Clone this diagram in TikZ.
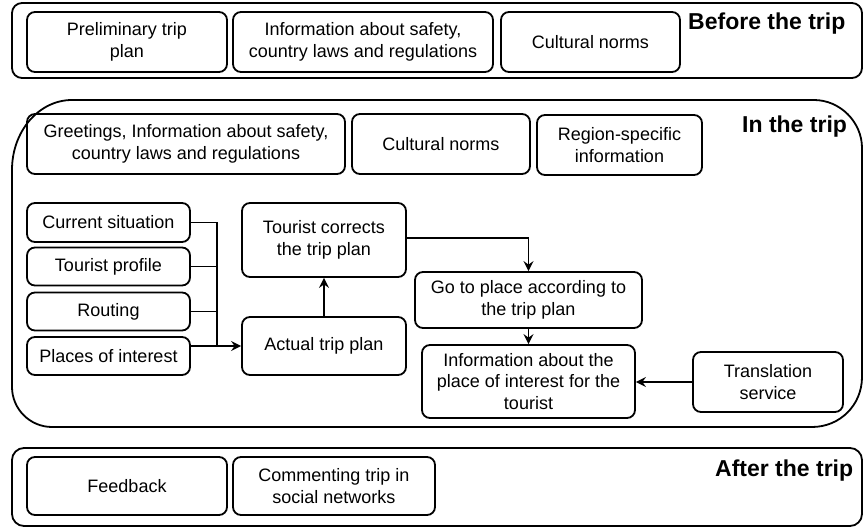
\documentclass[tikz,border=0pt]{standalone}
\usepackage{fontspec}
\setmainfont{Liberation Sans}
\usetikzlibrary{arrows.meta}
\tikzset{
  box/.style={draw, line width=1.8pt, rounded corners=8pt, align=center, inner sep=0pt,
    font=\fontsize{18}{21.5}\selectfont},
  band/.style={draw, line width=1.8pt},
  head/.style={font=\fontsize{23}{27}\selectfont\bfseries, anchor=base west, inner sep=0pt},
  conn/.style={line width=1.8pt},
  arr/.style={conn, -{Stealth[length=10pt,width=10pt,inset=3.5pt]}},
}
\begin{document}
\begin{tikzpicture}[x=1pt,y=-1pt]
\useasboundingbox (0,0) rectangle (865,529);

% ---- bands ----
\draw[band, rounded corners=10pt] (12,3) rectangle (862,78);
\draw[band] (12,170) -- (12,387) .. controls (12,409) and (30,427) .. (52,427)
  -- (812,427) .. controls (840,427) and (862,405) .. (862,377)
  -- (862,148) .. controls (862,122) and (840,100) .. (814,100)
  -- (72,100) .. controls (39,100) and (12,131) .. (12,170) -- cycle;
\draw[band, rounded corners=12pt] (12,448) rectangle (862,526);

% ---- before the trip ----
\node[box, minimum width=200pt, minimum height=60pt] (pre) at (127,42) {Preliminary trip\\plan};
\node[box, minimum width=260pt, minimum height=60pt] (safe1) at (363,42) {Information about safety,\\country laws and regulations};
\node[box, minimum width=179pt, minimum height=60pt] (cult1) at (590.5,42) {Cultural norms};
\node[head] (hbefore) at (688,30) {Before the trip};

% ---- in the trip ----
\node[box, minimum width=318pt, minimum height=60pt] (greet) at (186,144) {Greetings, Information about safety,\\country laws and regulations};
\node[box, minimum width=178pt, minimum height=60pt] (cult2) at (441,144) {Cultural norms};
\node[box, minimum width=165pt, minimum height=60pt] (region) at (619.5,145) {Region-specific\\information};
\node[head] (hin) at (742,133) {In the trip};

\node[box, minimum width=163pt, minimum height=39pt] (cur) at (108.5,222.5) {Current situation};
\node[box, minimum width=163pt, minimum height=38pt] (prof) at (108.5,266.5) {Tourist profile};
\node[box, minimum width=163pt, minimum height=38pt] (rout) at (108.5,311.5) {Routing};
\node[box, minimum width=163pt, minimum height=38pt] (poi) at (108.5,356) {Places of interest};

\node[box, minimum width=164pt, minimum height=58pt] (act) at (324,346) {Actual trip plan};
\node[box, minimum width=164pt, minimum height=74pt] (tc) at (324,240) {Tourist corrects\\the trip plan};
\node[box, minimum width=227pt, minimum height=56pt] (go) at (528.5,300) {Go to place according to\\the trip plan};
\node[box, minimum width=213pt, minimum height=73pt] (info) at (528.5,381.5) {Information about the\\place of interest for the\\tourist};
\node[box, minimum width=150pt, minimum height=60pt] (trans) at (768,382) {Translation\\service};

\coordinate (bus) at (217,346);
\draw[conn] (cur.east) -| (bus);
\draw[conn] (prof.east) -- (prof.east -| bus);
\draw[conn] (rout.east) -- (rout.east -| bus);
\draw[conn] (poi.east |- bus) -- (bus);
\draw[arr] (bus) -- (act.west);
\draw[arr] (act.north) -- (tc.south);
\draw[arr] ([yshift=2pt]tc.east) -| (go.north);
\draw[arr] (go.south) -- (info.north);
\draw[arr] (trans.west) -- (info.east |- trans.west);

% ---- after the trip ----
\node[box, minimum width=200pt, minimum height=58pt] (feed) at (127,486) {Feedback};
\node[box, minimum width=202pt, minimum height=58pt] (comm) at (334,486) {Commenting trip in\\social networks};
\node[head] (hafter) at (715,476) {After the trip};
\end{tikzpicture}
\end{document}
